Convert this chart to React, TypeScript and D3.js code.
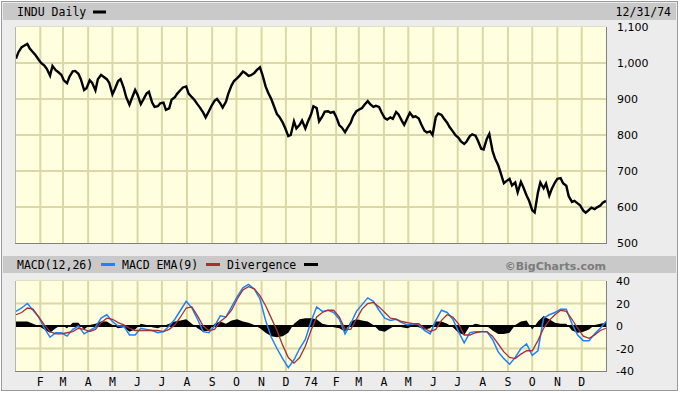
import * as d3 from 'd3';
import React from 'react';

// twice-weekly closes (Tue/Fri), Jan 2 1973 .. Dec 31 1974
const closes = [
  1012, 1030, 1044, 1048, 1053, 1040, 1030, 1022, 1009, 1000,
  993, 984, 965, 992, 980, 975, 967, 952, 944, 962,
  977, 978, 970, 955, 925, 930, 952, 945, 924, 955,
  967, 962, 955, 945, 913, 928, 950, 955, 930, 905,
  884, 902, 925, 912, 886, 898, 915, 920, 890, 878,
  880, 888, 890, 870, 874, 898, 905, 915, 925, 932,
  935, 915, 905, 898, 885, 876, 862, 849, 866, 880,
  895, 900, 888, 876, 892, 915, 938, 950, 958, 965,
  976, 972, 964, 966, 972, 980, 988, 968, 935, 918,
  900, 882, 858, 850, 835, 820, 797, 800, 838, 818,
  828, 840, 818, 836, 857, 880, 875, 838, 852, 865,
  866, 862, 864, 851, 827, 821, 808, 820, 834, 852,
  866, 870, 875, 884, 894, 886, 878, 881, 878, 863,
  847, 843, 849, 845, 864, 857, 840, 828, 848, 862,
  850, 852, 846, 830, 812, 807, 810, 800, 850, 860,
  856, 846, 834, 822, 810, 800, 792, 782, 775, 782,
  797, 802, 798, 784, 762, 760, 790, 803, 756, 735,
  716, 695, 666, 672, 678, 660, 668, 641, 670, 655,
  632, 618, 591, 585, 640, 668, 652, 665, 632, 650,
  668, 678, 680, 666, 659, 630, 614, 617, 610, 605,
  590, 584, 592, 598, 594, 599, 604, 612, 617,
];

// weekly (Tuesdays) MACD readings
const macdLine = [
  13, 16, 20, 14, 8, -2, -10, -6, -6, -9,
  -3, 0, -7, -4, -1, 7, 10, 4, 0, 0,
  -8, -8, -2, -3, -4, -6, -5, 0, 6, 14,
  22, 16, 6, -5, -6, 0, 9, 8, 17, 26,
  34, 37, 33, 24, 5, -10, -20, -29, -37, -30,
  -20, -12, 4, 17, 13, 14, 12, 6, -7, 2,
  13, 19, 25, 22, 14, 7, 5, 6, 3, 1,
  2, 1, -4, -7, 5, 14, 12, 6, -5, -15,
  -6, -5, -5, -5, -12, -23, -29, -34, -28, -20,
  -16, -26, -22, 7, 10, 12, 15, 15, 2, -8,
  -13, -13, -7, -2, 4,
];

const signalLine = [
  10, 12, 16, 15, 8, 1, -5, -7, -7, -6,
  -5, -2, -3, -5, -3, 3, 7, 6, 3, 1,
  -2, -4, -4, -4, -4, -4, -5, -3, 1, 8,
  16, 17, 9, 0, -4, -3, 4, 8, 14, 24,
  32, 35, 33, 27, 18, 7, -4, -17, -28, -33,
  -28, -18, -4, 8, 12, 14, 14, 8, -3, -3,
  6, 15, 20, 21, 17, 12, 7, 6, 4, 3,
  2, 2, -2, -5, -3, 5, 10, 8, 2, -8,
  -8, -6, -5, -5, -9, -16, -23, -28, -29, -25,
  -22, -22, -13, -2, 5, 10, 14, 13, 6, -2,
  -9, -11, -8, -4, -2,
];

const divergence = [
  4, 4, 4, 2, 0, -3, -6, -2, 1, -2,
  3, 3, -3, 1, 2, 4, 4, 1, -2, -1,
  -5, -3, 2, 1, -1, -2, 0, 2, 4, 5,
  6, 2, -2, -5, -4, 2, 4, 2, 5, 6,
  4, 3, 1, -2, -6, -9, -10, -9, -6, 2,
  6, 7, 7, 6, 2, 1, -1, -2, -5, 4,
  6, 5, 4, 1, -4, -5, -2, 1, -1, -2,
  0, -1, -3, -2, 4, 4, 2, -1, -6, -8,
  0, 2, 1, 0, -4, -7, -7, -6, 1, 4,
  5, -3, 4, 9, 6, 3, 2, 2, -4, -6,
  -5, -3, 1, 2, 3,
];

const monthLabels = [
  'F', 'M', 'A', 'M', 'J', 'J', 'A', 'S', 'O', 'N', 'D', '74',
  'F', 'M', 'A', 'M', 'J', 'J', 'A', 'S', 'O', 'N', 'D',
];
const priceTicks = [500, 600, 700, 800, 900, 1000, 1100];
const macdTicks = [-40, -20, 0, 20, 40];
const legendItems = [
  { label: 'MACD(12,26)', color: '#2080ff' },
  { label: 'MACD EMA(9)', color: '#a83030' },
  { label: 'Divergence', color: '#000000' },
];

const start = new Date(1973, 0, 2);
const end = new Date(1974, 11, 31);
const allDays = d3.timeDay.range(start, d3.timeDay.offset(end, 1));
const halfWeekDates = allDays.filter(d => d.getDay() === 2 || d.getDay() === 5);
const weekDates = allDays.filter(d => d.getDay() === 2);

const mono = '"DejaVu Sans Mono", monospace';
const sans = '"DejaVu Sans", Verdana, sans-serif';

const L = 16, R = 606;
const PT = 27, PB = 243;
const MT = 281, MB = 371;
const gridColor = '#d9d8a6';
const plotFill = '#ffffe0';

export default function App() {
  const x = d3.scaleTime().domain([start, end]).range([L, R]);
  const y = d3.scaleLinear().domain([500, 1100]).range([PB, PT]);
  const ym = d3.scaleLinear().domain([-40, 40]).range([MB, MT]);

  const priceData = closes.slice(0, halfWeekDates.length).map((v, i) => ({ date: halfWeekDates[i], v }));
  const macdData = macdLine.map((v, i) => ({ date: weekDates[i], v })).filter(d => d.date);
  const sigData = signalLine.map((v, i) => ({ date: weekDates[i], v })).filter(d => d.date);
  const divData = divergence.map((v, i) => ({ date: weekDates[i], v })).filter(d => d.date);

  const priceLine = d3.line<any>().x(d => x(d.date)).y(d => y(d.v));
  const mLine = d3.line<any>().x(d => x(d.date)).y(d => ym(d.v));
  const divArea = d3.area<any>().x(d => x(d.date)).y0(ym(0)).y1(d => ym(d.v));

  const months = d3.timeMonth.range(new Date(1973, 1, 1), new Date(1975, 0, 1));

  const fmt = d3.format(',');

  // legend layout (monospace ~7px per char)
  let lx = 17;
  const legend = legendItems.map(it => {
    const tx = lx;
    const sx = tx + it.label.length * 7 + 7;
    lx = sx + 21;
    return { ...it, tx, sx };
  });

  const grid = (top: number, bottom: number, hVals: number[], scale: any) => (
    <g>
      <rect x={L} y={top} width={R - L} height={bottom - top} fill={plotFill} />
      {months.map((m, i) => (
        <line key={'v' + i} x1={x(m)} x2={x(m)} y1={top} y2={bottom} stroke={gridColor} strokeWidth={2} />
      ))}
      {hVals.map(v => (
        <line key={'h' + v} x1={L} x2={R} y1={scale(v)} y2={scale(v)} stroke={gridColor} strokeWidth={2} />
      ))}
    </g>
  );

  const frame = (top: number, bottom: number) => (
    <g fill="none">
      <line x1={L - 0.5} x2={L - 0.5} y1={top} y2={bottom} stroke="#b8b8a0" />
      <line x1={L} x2={R} y1={top - 0.5} y2={top - 0.5} stroke="#e0e0c0" />
      <line x1={R + 0.5} x2={R + 0.5} y1={top} y2={bottom + 1} stroke="#808080" />
      <line x1={L - 1} x2={R + 1} y1={bottom + 0.5} y2={bottom + 0.5} stroke="#808080" />
    </g>
  );

  return (
    <>
      <style>{'body{margin:0;background:#fff}'}</style>
      <svg width={680} height={393} style={{ display: 'block' }}>
        <rect x={0} y={0} width={680} height={393} fill="#fff" />
        <rect x={1.5} y={1.5} width={676} height={389} fill="#ececec" stroke="#9a9a9a" />
        {/* header bar */}
        <rect x={3} y={3} width={673} height={17} fill="#c9c9c9" />
        <text x={17} y={16} fontFamily={mono} fontSize={11.5} fill="#000">INDU Daily</text>
        <rect x={93} y={10.5} width={13} height={3} fill="#000" />
        <text x={671} y={16} fontFamily={mono} fontSize={11.5} fill="#000" textAnchor="end">12/31/74</text>

        {/* price panel */}
        {grid(PT, PB, [600, 700, 800, 900, 1000], y)}
        <path d={priceLine(priceData) || ''} fill="none" stroke="#000" strokeWidth={2.4} strokeLinejoin="miter" />
        {frame(PT, PB)}
        {priceTicks.map(t => (
          <text key={t} x={617} y={y(t) + 4} fontFamily={sans} fontSize={11} fill="#000">{fmt(t)}</text>
        ))}

        {/* middle bar */}
        <rect x={3} y={256} width={673} height={17} fill="#c9c9c9" />
        {legend.map(it => (
          <g key={it.label}>
            <text x={it.tx} y={269} fontFamily={mono} fontSize={11.5} fill="#000">{it.label}</text>
            <rect x={it.sx} y={263} width={14} height={3} fill={it.color} />
          </g>
        ))}
        <text x={606} y={270} fontFamily={sans} fontWeight="bold" fontSize={11} fill="#7c7c7c" textAnchor="end">©BigCharts.com</text>

        {/* MACD panel */}
        {grid(MT, MB, [-20, 0, 20], ym)}
        <path d={divArea(divData) || ''} fill="#000" />
        <line x1={L} x2={R} y1={ym(0)} y2={ym(0)} stroke="#000" strokeWidth={2} />
        <path d={mLine(macdData) || ''} fill="none" stroke="#2080ff" strokeWidth={1.5} />
        <path d={mLine(sigData) || ''} fill="none" stroke="#a83030" strokeWidth={1.3} />
        {frame(MT, MB)}
        {macdTicks.map(t => (
          <text key={t} x={616} y={ym(t) + 4} fontFamily={sans} fontSize={11} fill="#000">{t}</text>
        ))}

        {/* month labels */}
        {months.map((m, i) => (
          <text key={i} x={x(m)} y={386} fontFamily={mono} fontSize={11.5} fill="#000" textAnchor="middle">{monthLabels[i]}</text>
        ))}
      </svg>
    </>
  );
}
